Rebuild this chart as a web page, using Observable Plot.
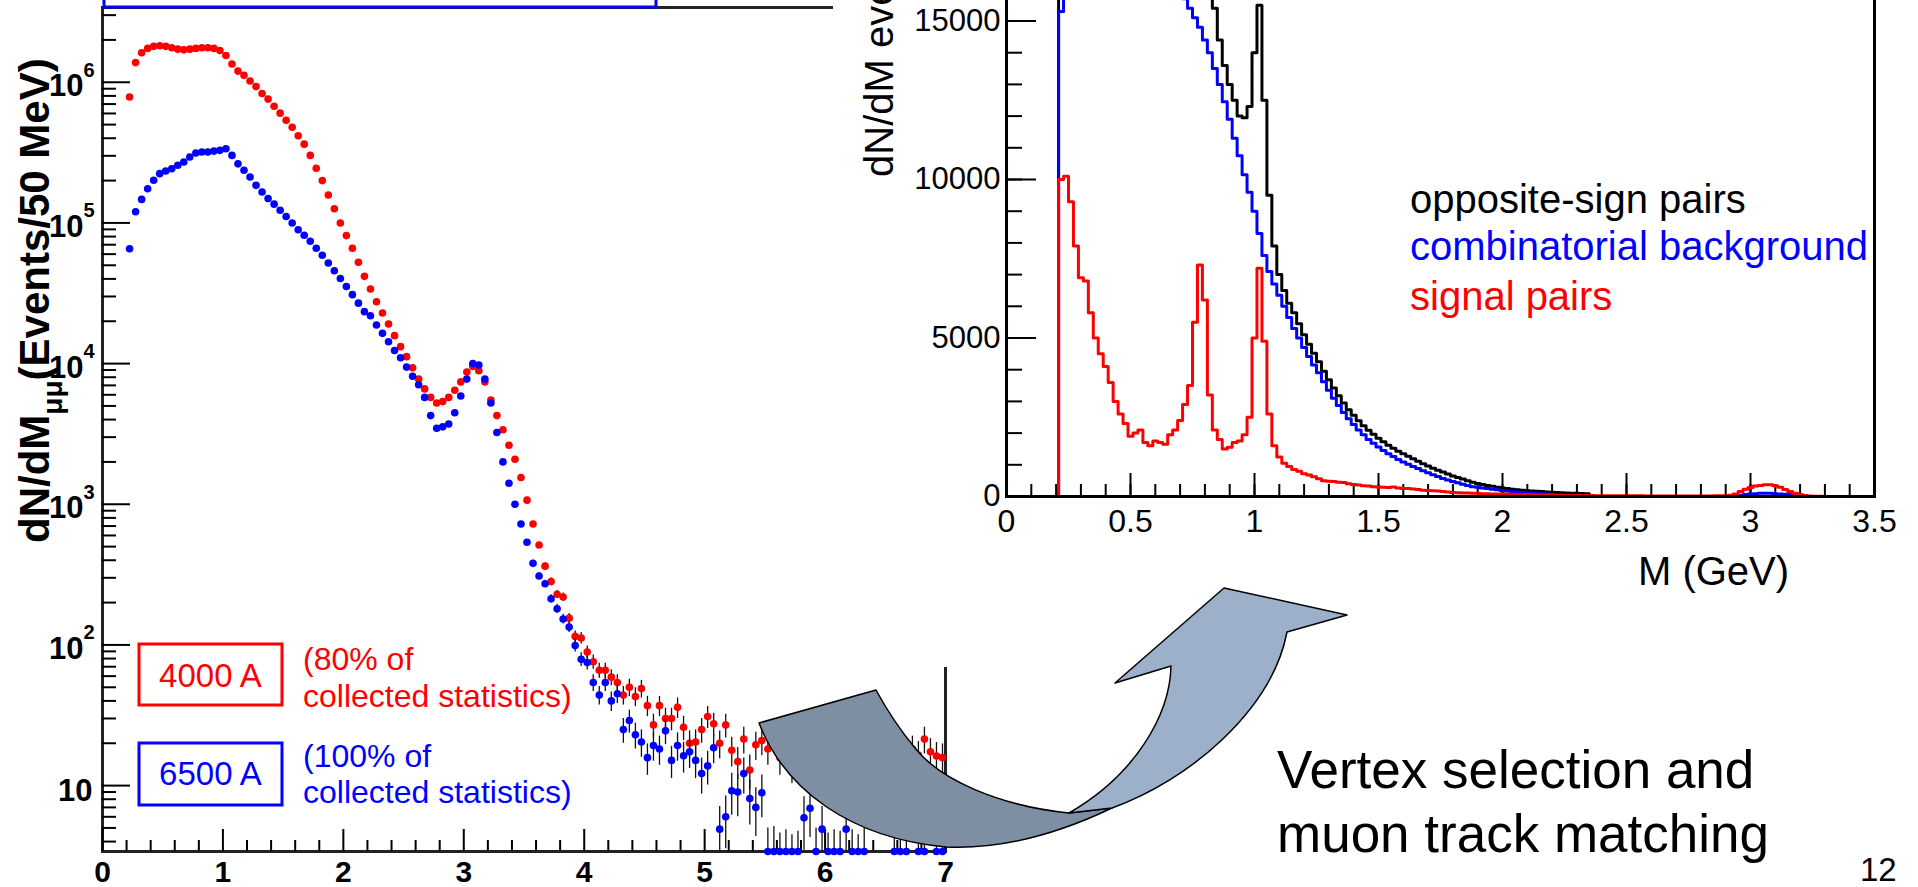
<!DOCTYPE html>
<html>
<head>
<meta charset="utf-8">
<script src="https://cdn.jsdelivr.net/npm/d3@7"></script>
<script src="https://cdn.jsdelivr.net/npm/@observablehq/plot@0.6"></script>
<style>
  html, body { margin: 0; padding: 0; background: #fff; overflow: hidden; }
  #page { position: relative; width: 1918px; height: 887px; overflow: hidden; font-family: "Liberation Sans", Arial, sans-serif; }
  #left { position: absolute; left: 0; top: 0; }
  #right { position: absolute; left: 833px; top: -160px; }
  #overlay { position: absolute; left: 0; top: 0; }
</style>
</head>
<body>
<div id="page">
  <div id="left"></div>
  <div id="right"></div>
  <svg id="overlay" width="1918" height="887" viewBox="0 0 1918 887" font-family="'Liberation Sans', Arial, sans-serif">
    <!-- lower edge of the upper legend box -->
    <path d="M104,-10 V7 H656 V-10" fill="none" stroke="#0000ff" stroke-width="3"/>

    <!-- left panel y title -->
    <text transform="translate(49,543) rotate(-90)" font-size="42" font-weight="bold" fill="#000">dN/dM<tspan font-size="28" dy="13">μμ</tspan><tspan dy="-13">(Events/50 MeV)</tspan></text>

    <!-- left panel legend -->
    <rect x="139" y="644" width="143" height="61" fill="none" stroke="#ff0000" stroke-width="3"/>
    <text x="210.5" y="687" font-size="33" fill="#ff0000" text-anchor="middle">4000 A</text>
    <text x="303" y="670" font-size="32" fill="#ff0000">(80% of</text>
    <text x="303" y="707" font-size="32" fill="#ff0000">collected statistics)</text>

    <rect x="139" y="743" width="143" height="62" fill="none" stroke="#0000ff" stroke-width="3"/>
    <text x="210.5" y="785" font-size="33" fill="#0000ff" text-anchor="middle">6500 A</text>
    <text x="303" y="767" font-size="32" fill="#0000ff">(100% of</text>
    <text x="303" y="803" font-size="32" fill="#0000ff">collected statistics)</text>

    <!-- right panel titles and legend -->
    <text transform="translate(893,177) rotate(-90)" font-size="40" fill="#000">dN/dM events</text>
    <text x="1410" y="213" font-size="40" fill="#000">opposite-sign pairs</text>
    <text x="1410" y="260" font-size="40" fill="#0000ff">combinatorial background</text>
    <text x="1410" y="310" font-size="40" fill="#ff0000">signal pairs</text>
    <text x="1638" y="585" font-size="40" fill="#000">M (GeV)</text>

    <!-- curved arrow from the raw spectrum to the selected one -->
    <path d="M759,723 C785,790 850,838 946,847 C1010,850 1070,828 1112,808 L1069,813 C1000,806 940,780 915,748 C900,730 888,712 876,690 Z"
          fill="#7e8ea3" stroke="#000" stroke-width="1.5" stroke-linejoin="round"/>
    <path d="M1171,666 C1170,715 1135,775 1069,813 L1112,808 C1190,780 1272,710 1287,632 L1347,615 L1224,588 L1115,683 Z"
          fill="#9cb0ca" stroke="#000" stroke-width="1.5" stroke-linejoin="round"/>

    <text x="1277" y="788" font-size="53" fill="#000">Vertex selection and</text>
    <text x="1277" y="852" font-size="53" fill="#000">muon track matching</text>
    <text x="1860" y="881" font-size="33" fill="#000">12</text>
  </svg>
</div>

<script>
// ---------- Left panel: dimuon mass spectra, 50 MeV bins (bin centres from 0.225 GeV) ----------
const leftBinWidth = 0.05;
const leftFirstCentre = 0.225;

// Events per bin, 4000 A magnet current (80% of statistics)
const counts4000A = [
  785000, 1380000, 1620000, 1740000, 1800000, 1820000, 1800000, 1760000, 1720000, 1700000,
  1720000, 1740000, 1760000, 1760000, 1740000, 1680000, 1550000, 1350000, 1200000, 1120000,
  1020000, 933000, 832000, 759000, 676000, 603000, 537000, 479000, 417000, 363000,
  302000, 245000, 200000, 158000, 126000, 100000, 81300, 66100, 52500, 41700,
  33900, 27500, 22900, 19100, 15800, 13200, 11200, 9330, 7760, 6610,
  5750, 5250, 5370, 5750, 6460, 7410, 8710, 9550, 8910, 7410,
  5500, 4270, 3390, 2630, 2090, 1550, 1070, 724, 513, 363,
  282, 229, 219, 155, 115, 112, 89, 76, 66, 66,
  59, 54, 44, 50, 43, 49, 37, 27, 37, 30,
  30, 36, 26, 20, 20.4, 25, 31, 27.5, 20, 27,
  17.8, 14.8, 21.4, 12.9, 19.5, 20.9, 18.2, 21.9, 15.8, 19.1,
  14.1, 20, 16.6, 12.6, 18.6, 15.1, 17.4, 13.2, 19.5, 15.8,
  12, 17, 14.8, 18.2, 13.5, 16.2, 20, 15.5, 17.4, 15.1,
  18.2, 16.5, 21.4, 17.4, 16.2, 15.8
];

// Events per bin, 6500 A magnet current (100% of statistics); null = empty bin
const counts6500A = [
  65600, 120000, 147000, 175000, 201000, 224000, 234000, 243000, 257000, 271000,
  294000, 314000, 319000, 319000, 324000, 328000, 337000, 302000, 263000, 237000,
  212000, 185000, 166000, 149000, 136000, 123000, 111000, 100000, 89500, 81700,
  74100, 66100, 58900, 51900, 45700, 40300, 35300, 30900, 26900, 23400,
  21900, 18800, 16400, 14300, 12400, 11000, 9440, 8130, 7080, 5750,
  4270, 3470, 3550, 3720, 4470, 5890, 7760, 10000, 9770, 7760,
  5250, 3240, 2000, 1410, 1000, 724, 537, 380, 309, 272,
  213, 181, 153, 134, 99, 79, 75, 54, 44, 54,
  40, 45, 25, 29, 23, 20.4, 15.8, 19.3, 18.2, 24.5,
  15.1, 19.3, 16.3, 17.4, 15.1, 12.2, 13.8, 18.6, 4.9, 6.0,
  9.2, 9.0, 12.2, 8.1, 7.0, 8.9, 3.2, 3.3, 2.9, 3.1,
  2.8, 3.0, 5.9, 6.9, 3.2, 4.9, 2.9, 3.1, 3.0, 4.9,
  3.1, 2.8, 3.2, null, null, null, null, 3.0, 3.2, 2.9,
  null, 3.1, 3.0, null, 3.2, 3.1
];

const leftMassTicks = [0, 1, 2, 3, 4, 5, 6, 7];
const leftDecades = [10, 100, 1000, 10000, 100000, 1000000];
const leftYDomain = [3.4, 3.4e6];

// ---------- Right panel: invariant mass after selection, 20 MeV bins from 0.21 GeV ----------
const rightBinWidth = 0.02;
const rightFirstEdge = 0.21;

const oppositeSignPairs = [
  25300, 40100, 41300, 38900, 36900, 35800, 33800, 32000, 30500, 29100,
  27600, 26000, 24600, 23800, 22900, 22300, 21800, 20800, 20200, 19850,
  19300, 18950, 18850, 18600, 18500, 18600, 18900, 20600, 22100, 20600,
  17200, 15400, 14400, 13600, 13000, 12500, 12000, 11950, 12300, 14000,
  15500, 12500, 9500, 7900, 7000, 6500, 6100, 5800, 5450, 5100,
  4800, 4520, 4250, 3950, 3680, 3420, 3180, 2950, 2740, 2560,
  2390, 2230, 2090, 1960, 1840, 1730, 1620, 1520, 1430, 1350,
  1270, 1190, 1110, 1030, 960, 890, 830, 770, 710, 650,
  600, 550, 500, 450, 410, 380, 350, 320, 290, 270,
  250, 230, 215, 200, 185, 175, 165, 155, 145, 135,
  125, 118, 110, 105, 100, 95, 90
];

const combinatorialBackground = [
  15300, 30000, 32000, 31000, 30000, 29000, 28000, 27000, 26000, 25000,
  24000, 23000, 22000, 21500, 21000, 20300, 19700, 19100, 18600, 18100,
  17600, 17300, 16900, 16500, 16100, 15700, 15400, 15100, 14800, 14400,
  14000, 13500, 13000, 12450, 11900, 11300, 10750, 10150, 9600, 9000,
  8300, 7600, 7100, 6700, 6350, 6000, 5650, 5300, 5000, 4700,
  4420, 4150, 3900, 3620, 3350, 3100, 2870, 2650, 2450, 2270,
  2100, 1950, 1800, 1680, 1560, 1450, 1350, 1260, 1170, 1090,
  1020, 950, 880, 810, 750, 690, 630, 570, 520, 470,
  430, 390, 350, 310, 290, 270, 250, 230, 210, 190,
  175, 160, 145, 130, 120, 110, 100, 90, 80, 0,
  0, 0, 0, 0, 0, 0, 0, 0, 0, 0,
  0, 0, 0, 0, 0, 0, 0, 0, 0, 0,
  0, 0, 0, 0, 0, 0, 0, 0, 0, 0,
  0, 0, 0, 0, 0, 0, 0, 40, 60, 80,
  90, 100, 100, 100, 90, 80, 70, 60, 40, 20,
  0, 0, 0, 0, 0, 0, 0, 0, 0, 0,
  0, 0, 0, 0
];

const signalPairs = [
  10000, 10100, 9300, 7900, 6900, 6800, 5800, 5000, 4500, 4100,
  3600, 3000, 2600, 2300, 1900, 2000, 2100, 1700, 1600, 1750,
  1700, 1650, 1950, 2100, 2400, 2900, 3500, 5500, 7300, 6200,
  3200, 2100, 1800, 1500, 1550, 1700, 1750, 1950, 2500, 5000,
  7200, 4900, 2600, 1600, 1250, 1050, 950, 850, 800, 720,
  680, 620, 560, 500, 480, 470, 450, 440, 400, 380,
  360, 340, 330, 310, 300, 290, 280, 300, 270, 250,
  250, 240, 220, 200, 190, 180, 170, 160, 140, 130,
  120, 110, 110, 100, 100, 90, 90, 80, 80, 80,
  75, 70, 65, 60, 60, 55, 50, 50, 45, 45,
  40, 40, 35, 35, 35, 30, 30, 30, 25, 25,
  25, 25, 20, 20, 20, 20, 20, 20, 15, 15,
  15, 15, 15, 15, 15, 15, 15, 15, 15, 15,
  15, 15, 20, 20, 25, 40, 80, 160, 230, 280,
  330, 350, 370, 370, 340, 290, 220, 160, 100, 60,
  30, 15, 10, 5, 0, 0, 0, 0, 0, 0,
  0, 0, 0, 0
];

const rightMassTicks = [0, 0.5, 1, 1.5, 2, 2.5, 3, 3.5];
const rightCountTicks = [0, 5000, 10000, 15000];
const rightYDomain = [0, 20000];
const rightXDomain = [0, 3.5];

// ---------- helpers ----------
const leftSeries = (counts) =>
  counts.map((v, i) => ({mass: leftFirstCentre + i * leftBinWidth, v}))
        .filter(d => d.v != null);

// Histogram outline as step points; optionally closed down to zero at the far end
function histogramSteps(values, closeToZero) {
  const pts = [{m: 0, n: 0}];
  values.forEach((n, i) => pts.push({m: rightFirstEdge + i * rightBinWidth, n}));
  const end = rightFirstEdge + values.length * rightBinWidth;
  if (closeToZero) {
    pts.push({m: end, n: 0});
    pts.push({m: rightXDomain[1], n: 0});
  } else {
    pts.push({m: end, n: values[values.length - 1]});
  }
  return pts;
}

const red4000 = leftSeries(counts4000A);
const blue6500 = leftSeries(counts6500A);

const leftMinorX = d3.range(0, 7.001, 0.2).filter(t => Math.abs(t - Math.round(t)) > 1e-6);
const leftMinorY = [];
for (let e = 0; e <= 6; e++) for (let k = 2; k <= 9; k++) {
  const t = k * 10 ** e;
  if (t > leftYDomain[0] && t < leftYDomain[1]) leftMinorY.push(t);
}
const rightMinorX = d3.range(0, 3.501, 0.1);
const rightMinorY = d3.range(0, 20001, 1000);

const errorBars = (data) => Plot.ruleX(data, {
  x: "mass",
  y1: d => Math.max(d.v - Math.sqrt(d.v), 1),
  y2: d => d.v + Math.sqrt(d.v),
  stroke: "#111", strokeWidth: 1.3, clip: true
});
const markers = (data, color) => Plot.dot(data, {
  x: "mass", y: d => Math.max(d.v, leftYDomain[0]), r: 3.8, fill: color
});

const narrowBold = "'Liberation Sans Narrow', 'Liberation Sans', Arial, sans-serif";
const decadeLabel = {frameAnchor: "left", y: d => d, textAnchor: "end", fontSize: 31, fontWeight: "bold", fontFamily: narrowBold, fill: "#000"};

const leftPanel = Plot.plot({
  width: 960, height: 887,
  marginLeft: 102, marginRight: 15, marginTop: 7, marginBottom: 36,
  style: `background: transparent; font-family: ${narrowBold};`,
  x: {domain: [0, 7]},
  y: {type: "log", domain: leftYDomain},
  marks: [
    Plot.frame({stroke: "#222", strokeWidth: 3}),
    Plot.axisX(leftMinorX, {anchor: "bottom", tickSize: -11, strokeWidth: 2, fill: "none", label: null}),
    Plot.axisX(leftMassTicks, {anchor: "bottom", tickSize: -22, strokeWidth: 2, fill: "none", label: null}),
    Plot.axisX(leftMassTicks, {anchor: "bottom", tickSize: 0, tickPadding: 9, fontSize: 30, fontWeight: "bold", fontFamily: narrowBold, fill: "#000", tickFormat: d => String(d), label: null}),
    Plot.axisY(leftMinorY, {anchor: "left", tickSize: -14, strokeWidth: 2, fill: "none", label: null}),
    Plot.axisY(leftDecades, {anchor: "left", tickSize: -28, strokeWidth: 2, fill: "none", label: null}),
    // decade labels: "10" alone, then "10" with a raised exponent
    Plot.text(leftDecades.filter(d => d === 10), {...decadeLabel, text: () => "10", dx: -10, dy: 5}),
    Plot.text(leftDecades.filter(d => d > 10), {...decadeLabel, text: () => "10", dx: -19, dy: 4}),
    Plot.text(leftDecades.filter(d => d > 10), {
      ...decadeLabel, text: d => String(Math.round(Math.log10(d))),
      dx: -19, dy: -12, textAnchor: "start", fontSize: 20
    }),
    errorBars(red4000), markers(red4000, "#ff0000"),
    errorBars(blue6500), markers(blue6500, "#0000ff")
  ]
});
document.getElementById("left").appendChild(leftPanel);

const rightPanel = Plot.plot({
  width: 1085, height: 827,
  marginLeft: 173, marginRight: 44, marginTop: 22, marginBottom: 171,
  style: "background: white; font-family: 'Liberation Sans', Arial, sans-serif;",
  x: {domain: rightXDomain},
  y: {domain: rightYDomain},
  marks: [
    Plot.axisX(rightMinorX, {anchor: "bottom", tickSize: -12, strokeWidth: 2, fill: "none", label: null}),
    Plot.axisX(rightMassTicks, {anchor: "bottom", tickSize: -23, strokeWidth: 2, fill: "none", label: null}),
    Plot.axisX(rightMassTicks, {anchor: "bottom", tickSize: 0, tickPadding: 13, fontSize: 32, fill: "#000", tickFormat: d => String(d), label: null}),
    Plot.axisY(rightMinorY, {anchor: "left", tickSize: -16, strokeWidth: 2, fill: "none", label: null}),
    Plot.axisY(rightCountTicks, {anchor: "left", tickSize: -30, strokeWidth: 2, fill: "none", label: null}),
    Plot.axisY(rightCountTicks, {anchor: "left", tickSize: 0, tickPadding: 6, fontSize: 31, fill: "#000", tickFormat: d => String(d), label: null}),
    Plot.line(histogramSteps(oppositeSignPairs, false), {x: "m", y: "n", curve: "step-after", stroke: "#000", strokeWidth: 3, clip: true}),
    Plot.line(histogramSteps(combinatorialBackground, true), {x: "m", y: "n", curve: "step-after", stroke: "#0000ff", strokeWidth: 3, clip: true}),
    Plot.line(histogramSteps(signalPairs, true), {x: "m", y: "n", curve: "step-after", stroke: "#ff0000", strokeWidth: 3, clip: true}),
    Plot.frame({stroke: "#000", strokeWidth: 3})
  ]
});
document.getElementById("right").appendChild(rightPanel);
</script>
</body>
</html>
